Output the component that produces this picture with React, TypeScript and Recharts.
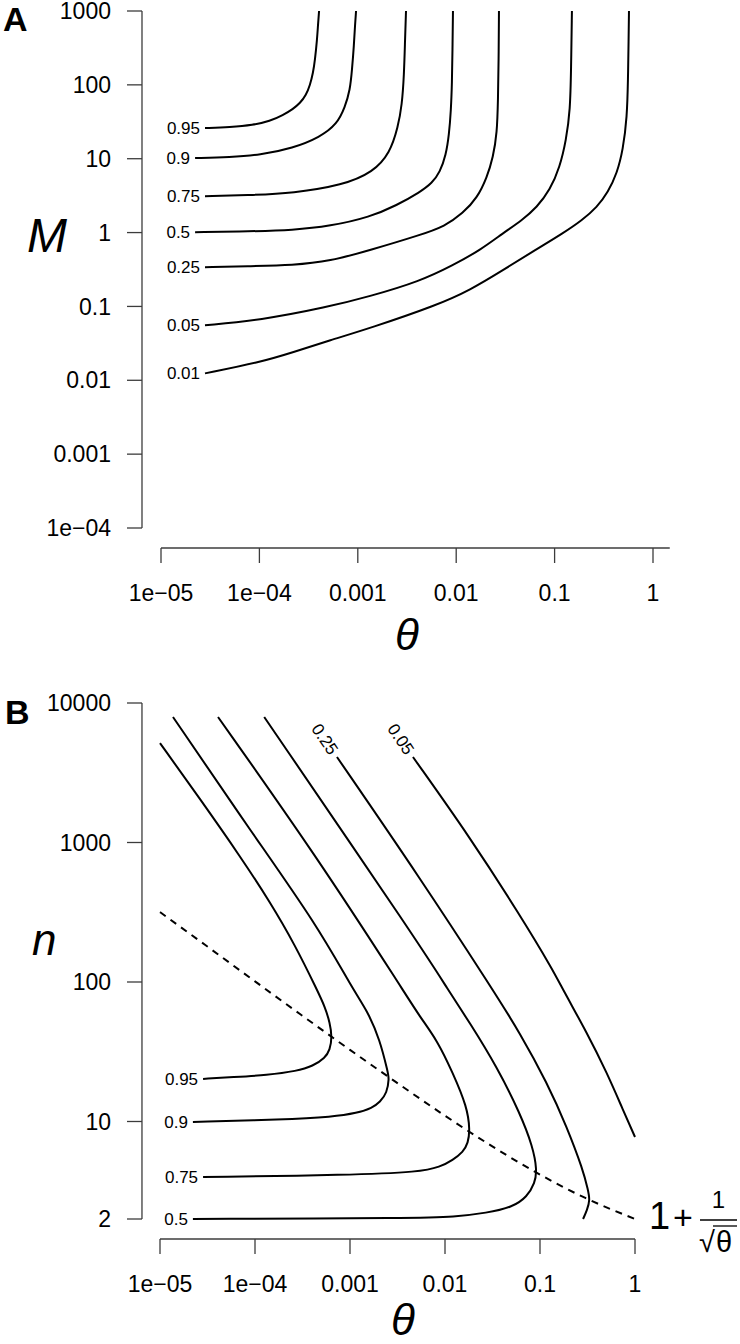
import React from 'react';
import { LineChart, Line, XAxis, YAxis, ReferenceLine } from 'recharts';

type Pt = [number, number];

const FONT = '"Liberation Sans", Arial, Helvetica, sans-serif';
const AXIS = '#3c3c3c';

// tick values and their printed labels
const thetaTicks = [1e-5, 1e-4, 0.001, 0.01, 0.1, 1];
const thetaTickLabels = ['1e\u221205', '1e\u221204', '0.001', '0.01', '0.1', '1'];
const mTicks = [1e-4, 0.001, 0.01, 0.1, 1, 10, 100, 1000];
const mTickLabels = ['1e\u221204', '0.001', '0.01', '0.1', '1', '10', '100', '1000'];
const nTicks = [2, 10, 100, 1000, 10000];
const nTickLabels = ['2', '10', '100', '1000', '10000'];

// panel A contours: [theta, M]
const a95: Pt[] = [[2.8e-5, 26.0], [5.02e-5, 26.8], [8.61e-5, 28.5], [1.28e-4, 32.3], [1.74e-4, 39.0], [2.19e-4, 47.0], [2.59e-4, 56.6], [2.98e-4, 72.8], [3.27e-4, 99.4], [3.51e-4, 145], [3.67e-4, 217], [3.85e-4, 405], [3.94e-4, 646], [4.04e-4, 1000]];
const a90: Pt[] = [[2.22e-5, 10.2], [5.02e-5, 10.5], [1.01e-4, 11.2], [2.19e-4, 13.9], [4.13e-4, 19.6], [6.15e-4, 29.4], [7.41e-4, 50.0], [8.34e-4, 85.1], [8.73e-4, 159], [9.14e-4, 346], [9.37e-4, 646], [9.6e-4, 1000]];
const a75: Pt[] = [[2.8e-5, 3.11], [8.01e-5, 3.21], [2.19e-4, 3.42], [7.08e-4, 4.39], [1.43e-3, 6.58], [2.12e-3, 11.9], [2.56e-3, 26.8], [2.81e-3, 53.2], [2.95e-3, 136], [3.02e-3, 405], [3.09e-3, 1000]];
const a50: Pt[] = [[2.22e-5, 1.01], [8.01e-5, 1.04], [2.19e-4, 1.08], [5.21e-4, 1.22], [1.33e-3, 1.62], [2.5e-3, 2.35], [4.28e-3, 3.52], [5.68e-3, 4.67], [6.84e-3, 6.58], [7.87e-3, 11.2], [8.45e-3, 20.9], [8.85e-3, 45.6], [9.06e-3, 106], [9.17e-3, 296], [9.27e-3, 1000]];
const a25: Pt[] = [[2.8e-5, 0.34], [8.01e-5, 0.351], [2.19e-4, 0.361], [5.21e-4, 0.409], [1.33e-3, 0.578], [4.28e-3, 0.923], [7.69e-3, 1.22], [0.0117, 1.83], [0.0163, 2.92], [0.0206, 5.64], [0.0237, 10.5], [0.026, 22.2], [0.0266, 62.2], [0.027, 217], [0.0272, 1000]];
const a05: Pt[] = [[2.8e-5, 0.0556], [1.01e-4, 0.065], [4.86e-4, 0.0975], [1.33e-3, 0.137], [4.28e-3, 0.219], [9.27e-3, 0.361], [0.0175, 0.578], [0.0299, 0.982], [0.0467, 1.47], [0.0662, 2.21], [0.0897, 3.76], [0.113, 7.69], [0.131, 17.9], [0.144, 45.6], [0.147, 159], [0.15, 1000]];
const a01: Pt[] = [[2.8e-5, 0.0124], [1.01e-4, 0.0175], [2.19e-4, 0.0239], [5.21e-4, 0.0348], [1.33e-3, 0.0507], [6.38e-3, 0.104], [0.0138, 0.166], [0.0299, 0.31], [0.0632, 0.578], [0.122, 0.982], [0.19, 1.47], [0.27, 2.21], [0.349, 3.52], [0.431, 6.38], [0.495, 13.1], [0.545, 36.6], [0.557, 116], [0.565, 405], [0.57, 1000]];

// panel B contours: [theta, n], starting at the labelled end
const b95: Pt[] = [[2.84e-5, 20.2], [5.86e-5, 20.8], [1.34e-4, 21.5], [2.77e-4, 23.0], [4.08e-4, 25.0], [5.46e-4, 28.5], [6.15e-4, 32.6], [6.47e-4, 40.4], [6.15e-4, 50.8], [5.46e-4, 66.2], [4.5e-4, 87.7], [2.64e-4, 184], [1.44e-4, 374], [6.95e-5, 800], [2.64e-5, 2050], [1.0e-5, 5160]];
const b90: Pt[] = [[2.22e-5, 9.92], [1.97e-4, 10.3], [6.62e-4, 10.8], [1.19e-3, 11.5], [1.71e-3, 12.5], [2.07e-3, 13.8], [2.45e-3, 16.0], [2.58e-3, 20.5], [2.51e-3, 22.3], [2.07e-3, 38.4], [1.51e-3, 62.9], [1.08e-3, 87.7], [4.5e-4, 256], [8.85e-5, 1230], [1.37e-5, 7940]];
const b75: Pt[] = [[2.84e-5, 4.0], [1.0e-3, 4.13], [5.46e-3, 4.35], [8.85e-3, 4.72], [0.0121, 5.3], [0.0155, 6.04], [0.0175, 7.01], [0.0183, 8.69], [0.0171, 12.7], [0.0121, 22.3], [8.24e-3, 38.4], [5.46e-3, 56.1], [3.61e-3, 87.7], [4.5e-4, 787], [4.08e-5, 7940]];
const b50: Pt[] = [[2.22e-5, 2.0], [5.46e-3, 2.03], [0.0121, 2.07], [0.0277, 2.21], [0.052, 2.44], [0.0729, 2.88], [0.0885, 3.62], [0.0929, 4.49], [0.0843, 6.56], [0.0615, 11.5], [0.0352, 24.6], [0.0183, 50.8], [0.0108, 87.7], [5.46e-3, 184], [1.25e-4, 7940]];
const b25: Pt[] = [[7.29e-4, 4100], [5.46e-3, 557], [0.032, 87.7], [0.0615, 43.1], [0.119, 18.9], [0.192, 9.14], [0.284, 4.49], [0.32, 3.23], [0.336, 2.74], [0.313, 2.32], [0.284, 2.0]];
const b05: Pt[] = [[4.6e-3, 4100], [0.0183, 1090], [0.0615, 302], [0.137, 122], [0.175, 87.7], [0.313, 43.1], [0.507, 22.3], [0.748, 12.1], [1.0, 7.74]];

// dashed reference curve in panel B
const dashTheta = [1e-5, 3e-5, 1e-4, 3e-4, 1e-3, 3e-3, 0.01, 0.03, 0.1, 0.3, 1];
const dashN = [317, 184, 101, 58.7, 32.6, 19.3, 11, 6.77, 4.16, 2.83, 2];

const curvesA = [
  { level: '0.95', pts: a95 },
  { level: '0.9', pts: a90 },
  { level: '0.75', pts: a75 },
  { level: '0.5', pts: a50 },
  { level: '0.25', pts: a25 },
  { level: '0.05', pts: a05 },
  { level: '0.01', pts: a01 },
];
const curvesB = [
  { level: '0.95', pts: b95, angle: 0 },
  { level: '0.9', pts: b90, angle: 0 },
  { level: '0.75', pts: b75, angle: 0 },
  { level: '0.5', pts: b50, angle: 0 },
  { level: '0.25', pts: b25, angle: 56 },
  { level: '0.05', pts: b05, angle: 56 },
];

const toRows = (pts: Pt[]) => pts.map(([x, y]) => ({ x, y }));
const dashRows = dashTheta.map((x, i) => ({ x, y: dashN[i] }));

const fmt = (ticks: number[], labels: string[]) => (v: number) => {
  const i = ticks.findIndex((t) => Math.abs(Math.log10(t) - Math.log10(v)) < 1e-6);
  return i >= 0 ? labels[i] : String(v);
};

// contour label drawn just before the first point of a line
const labelDot = (level: string, angle: number) => (p: any) => {
  if (p.index !== 0) return <g key={`d${p.index}`} />;
  const rad = (angle * Math.PI) / 180;
  const lx = p.cx - 5 * Math.cos(rad);
  const ly = p.cy - 5 * Math.sin(rad);
  return (
    <text
      key="lbl"
      x={lx}
      y={ly}
      dy="0.35em"
      textAnchor="end"
      fontSize={17}
      fontFamily={FONT}
      fill="#000"
      transform={angle ? `rotate(${angle} ${lx} ${ly})` : undefined}
    >
      {level}
    </text>
  );
};

const tickStyle = { fill: '#000', fontSize: 23, fontFamily: FONT };
const tickLineStyle = { stroke: AXIS, strokeWidth: 1.3 };

const PanelA = () => (
  <LineChart width={740} height={680} margin={{ top: 11, right: 68, bottom: 72, left: 62 }}>
    <XAxis
      type="number"
      dataKey="x"
      scale="log"
      domain={[1e-5, 1]}
      ticks={thetaTicks}
      interval={0}
      tickFormatter={fmt(thetaTicks, thetaTickLabels)}
      padding={{ left: 19, right: 19 }}
      axisLine={false}
      tickLine={tickLineStyle}
      tickSize={15}
      tickMargin={22}
      tick={tickStyle}
      height={60}
    />
    <YAxis
      type="number"
      dataKey="y"
      scale="log"
      domain={[1e-4, 1000]}
      ticks={mTicks}
      interval={0}
      tickFormatter={fmt(mTicks, mTickLabels)}
      padding={{ top: 0, bottom: 20 }}
      axisLine={false}
      tickLine={tickLineStyle}
      tickSize={15}
      tickMargin={16}
      tick={tickStyle}
      width={80}
    />
    {/* detached axis lines, R style */}
    <ReferenceLine segment={[{ x: 6.41e-6, y: 1e-4 }, { x: 6.41e-6, y: 1000 }]} ifOverflow="visible" stroke={AXIS} strokeWidth={1.3} />
    <ReferenceLine segment={[{ x: 1e-5, y: 5.36e-5 }, { x: 1.48, y: 5.36e-5 }]} ifOverflow="visible" stroke={AXIS} strokeWidth={1.3} />
    {curvesA.map((c) => (
      <Line
        key={c.level}
        data={toRows(c.pts)}
        dataKey="y"
        type="basis"
        stroke="#000"
        strokeWidth={2}
        dot={labelDot(c.level, 0)}
        activeDot={false}
        isAnimationActive={false}
      />
    ))}
  </LineChart>
);

const PanelB = () => (
  <LineChart width={740} height={664} margin={{ top: 23, right: 105, bottom: 45, left: 62 }}>
    <XAxis
      type="number"
      dataKey="x"
      scale="log"
      domain={[1e-5, 1]}
      ticks={thetaTicks}
      interval={0}
      tickFormatter={fmt(thetaTicks, thetaTickLabels)}
      padding={{ left: 18, right: 0 }}
      axisLine={false}
      tickLine={tickLineStyle}
      tickSize={15}
      tickMargin={22}
      tick={tickStyle}
      height={60}
    />
    <YAxis
      type="number"
      dataKey="y"
      scale="log"
      domain={[2, 10000]}
      ticks={nTicks}
      interval={0}
      tickFormatter={fmt(nTicks, nTickLabels)}
      padding={{ top: 0, bottom: 20 }}
      axisLine={false}
      tickLine={tickLineStyle}
      tickSize={15}
      tickMargin={16}
      tick={tickStyle}
      width={80}
    />
    <ReferenceLine segment={[{ x: 6.46e-6, y: 2 }, { x: 6.46e-6, y: 10000 }]} ifOverflow="visible" stroke={AXIS} strokeWidth={1.3} />
    <ReferenceLine segment={[{ x: 1e-5, y: 1.438 }, { x: 1, y: 1.438 }]} ifOverflow="visible" stroke={AXIS} strokeWidth={1.3} />
    <Line
      data={dashRows}
      dataKey="y"
      type="monotone"
      stroke="#000"
      strokeWidth={2}
      strokeDasharray="7 6"
      dot={false}
      activeDot={false}
      isAnimationActive={false}
    />
    {curvesB.map((c) => (
      <Line
        key={c.level}
        data={toRows(c.pts)}
        dataKey="y"
        type="basis"
        stroke="#000"
        strokeWidth={2}
        dot={labelDot(c.level, c.angle)}
        activeDot={false}
        isAnimationActive={false}
      />
    ))}
  </LineChart>
);

export default function App() {
  return (
    <div style={{ position: 'absolute', left: 0, top: 0, width: 740, height: 1344, background: '#fff' }}>
      <div style={{ position: 'absolute', left: 0, top: 0 }}>
        <PanelA />
      </div>
      <div style={{ position: 'absolute', left: 0, top: 680 }}>
        <PanelB />
      </div>
      <svg
        width={740}
        height={1344}
        style={{ position: 'absolute', left: 0, top: 0, pointerEvents: 'none' }}
        fontFamily={FONT}
      >
        <text x={3} y={31} fontSize={34} fontWeight="bold">A</text>
        <text x={27} y={252} fontSize={48} fontStyle="italic">M</text>
        <text x={407} y={650} fontSize={44} fontStyle="italic" textAnchor="middle">θ</text>
        <text x={5} y={724} fontSize={34} fontWeight="bold">B</text>
        <text x={32} y={955} fontSize={44} fontStyle="italic">n</text>
        <text x={403} y={1335} fontSize={44} fontStyle="italic" textAnchor="middle">θ</text>
        {/* 1 + 1/sqrt(theta) */}
        <text x={649} y={1229} fontSize={38}>1</text>
        <text x={673} y={1229} fontSize={34}>+</text>
        <text x={718.5} y={1208} fontSize={24} textAnchor="middle">1</text>
        <line x1={700} x2={737} y1={1220} y2={1220} stroke="#000" strokeWidth={1.5} />
        <text x={699} y={1252} fontSize={29}>√</text>
        <line x1={713} x2={737} y1={1226} y2={1226} stroke="#000" strokeWidth={1.3} />
        <text x={716} y={1252} fontSize={29}>θ</text>
      </svg>
    </div>
  );
}
